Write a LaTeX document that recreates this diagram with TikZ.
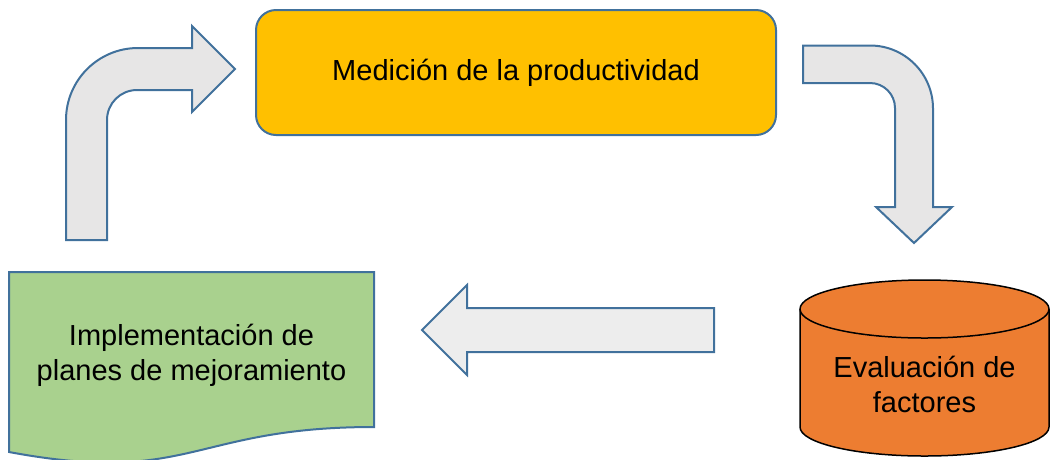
\documentclass[tikz,border=0pt]{standalone}
\usepackage{fontspec}
\setmainfont{Liberation Sans}
\definecolor{outl}{HTML}{41719C}
\definecolor{arrfill}{HTML}{E7E6E6}
\definecolor{arrfillb}{HTML}{EDEDED}
\definecolor{yel}{HTML}{FFC000}
\definecolor{grn}{HTML}{A9D18E}
\definecolor{org}{HTML}{ED7D31}
\tikzset{
  blockarrow/.style={draw=outl, line width=2pt, fill=arrfill, line join=miter},
  lbl/.style={font=\fontsize{29}{35}\selectfont, align=center, text=black, inner sep=0pt},
}
\begin{document}
\begin{tikzpicture}[x=1pt,y=-1pt]
\useasboundingbox (0,0) rectangle (1051,459);
\clip (0,0) rectangle (1051,459);
% yellow box
\node[draw=outl, line width=2pt, fill=yel, rounded corners=20pt,
      minimum width=520pt, minimum height=125pt, lbl] (med) at (516,72.5)
      {Medición de la productividad};
% green document
\path[draw=outl, line width=2pt, fill=grn]
  (9,272) -- (374,272) -- (374,427)
  .. controls (191.5,427) and (191.5,486) .. (9,452) -- cycle;
\node[lbl] (impl) at (191.5,355) {Implementación de\\planes de mejoramiento};
% cylinder
\path[draw=black, line width=1.5pt, fill=org]
  (800,309) -- (800,427) arc (180:0:124.5 and 29) -- (1049,309)
  arc (0:-180:124.5 and 29) -- cycle;
\draw[black, line width=1.5pt] (800,309) arc (180:0:124.5 and 29);
\node[lbl] (eval) at (924.5,384) {Evaluación de\\factores};
% top-left bent arrow
\path[blockarrow]
  (66,240) -- (66,120) arc (180:270:72) -- (192,48) -- (192,26) -- (235,69)
  -- (192,112) -- (192,90) -- (137,90) arc (270:180:30) -- (107,240) -- cycle;
% top-right bent arrow
\path[blockarrow]
  (803,45.5) -- (870,45.5) arc (270:360:63) -- (933,207) -- (952,207)
  -- (914,243) -- (876,207) -- (895,207) -- (895,108) arc (0:-90:25)
  -- (803,83) -- cycle;
% left arrow
\path[blockarrow, fill=arrfillb]
  (714,308) -- (467,308) -- (467,285) -- (422,330) -- (467,375)
  -- (467,352) -- (714,352) -- cycle;
\end{tikzpicture}
\end{document}
